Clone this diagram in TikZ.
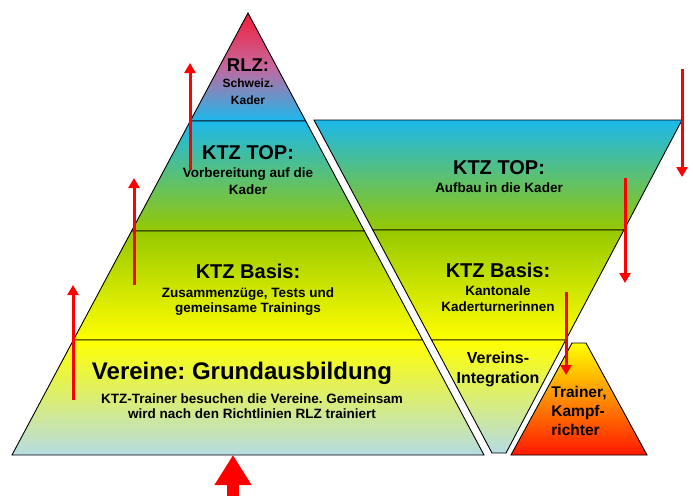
\documentclass[tikz,border=0pt]{standalone}
\usepackage{fontspec}
\setmainfont{Liberation Sans}
\usetikzlibrary{arrows.meta,positioning}
\frenchspacing

\definecolor{rlzred}{RGB}{245,28,58}
\definecolor{rlzmid}{RGB}{196,104,158}
\definecolor{kaderblue}{RGB}{28,184,236}
\definecolor{basisgreen}{RGB}{150,200,0}
\definecolor{vereinyellow}{RGB}{255,255,0}
\definecolor{vereinblue}{RGB}{182,220,228}
\definecolor{trainerred}{RGB}{255,24,0}

\begin{document}
\begin{tikzpicture}[x=1pt,y=-1pt,
    layer/.style={draw=black,line width=0.9pt},
    head/.style={inner sep=0pt,font=\fontsize{20}{22}\selectfont\bfseries},
    sub/.style={inner sep=0pt,align=center,font=\fontsize{13.5}{16.5}\selectfont\bfseries},
    rise/.style={draw=red,line width=3pt,-{Triangle[width=11pt,length=10pt]}},
    bigrise/.style={draw=red,line width=12pt,-{Triangle[width=35pt,length=30pt]}}
  ]
  \useasboundingbox (0,0) rectangle (693,495);
  % pyramid
  \path[layer,top color=rlzred,bottom color=kaderblue,middle color=rlzmid] (248,13) -- (305.7,121) -- (190.3,121) -- cycle;
  \path[layer,top color=kaderblue,bottom color=basisgreen] (190.3,121) -- (305.7,121) -- (364.4,231) -- (131.6,231) -- cycle;
  \path[layer,top color=basisgreen,bottom color=vereinyellow] (131.6,231) -- (364.4,231) -- (422.6,340) -- (73.4,340) -- cycle;
  \path[layer,top color=vereinyellow,bottom color=vereinblue] (73.4,340) -- (422.6,340) -- (484,455) -- (12,455) -- cycle;
  % funnel
  \path[layer,top color=kaderblue,bottom color=basisgreen] (314,120) -- (682,120) -- (623.9,230) -- (372.8,230) -- cycle;
  \path[layer,top color=basisgreen,bottom color=vereinyellow] (372.8,230) -- (623.9,230) -- (565.7,340) -- (431.6,340) -- cycle;
  \path[layer,top color=vereinyellow,bottom color=vereinblue] (431.6,340) -- (565.7,340) -- (506,453) -- (492,453) -- cycle;
  % trainer
  \path[layer,top color=vereinyellow,bottom color=trainerred] (572,343) -- (586,343) -- (647,455) -- (511,455) -- cycle;

  % texts
  \node[head,font=\fontsize{18.5}{20}\selectfont\bfseries] (rlz) at (248,65) {RLZ:};
  \node[sub,font=\fontsize{12}{17}\selectfont\bfseries,below=7pt of rlz] (rlzsub) {Schweiz.\\Kader};
  \node[head] (ptop) at (248,153) {KTZ TOP:};
  \node[sub,below=7.5pt of ptop] (ptopsub) {Vorbereitung auf die\\Kader};
  \node[head] (pbasis) at (248,271) {KTZ Basis:};
  \node[sub,font=\fontsize{13.5}{15.5}\selectfont\bfseries,below=8.5pt of pbasis] (pbasissub) {Zusammenzüge, Tests und\\gemeinsame Trainings};
  \node[head,font=\fontsize{24}{26}\selectfont\bfseries] (verein) at (242,373) {Vereine: Grundausbildung};
  \node[sub,font=\fontsize{13.5}{15}\selectfont\bfseries,below=9pt of verein,xshift=10pt] (vereinsub) {KTZ-Trainer besuchen die Vereine. Gemeinsam\\wird nach den Richtlinien RLZ trainiert};
  \node[head] (ftop) at (499,168) {KTZ TOP:};
  \node[sub,below=7.5pt of ftop] (ftopsub) {Aufbau in die Kader};
  \node[head] (fbasis) at (498,270) {KTZ Basis:};
  \node[sub,below=7.5pt of fbasis] (fbasissub) {Kantonale\\Kaderturnerinnen};
  \node[sub,font=\fontsize{16}{20}\selectfont\bfseries] (integration) at (498,369) {Vereins-\\Integration};
  \node[sub,align=left,font=\fontsize{15.5}{19}\selectfont\bfseries] (trainer) at (579,411) {Trainer,\\Kampf-\\richter};

  % arrows
  \coordinate (up1a) at (190,170);  \coordinate (up1b) at (190,63);
  \coordinate (up2a) at (134,285);  \coordinate (up2b) at (134,178);
  \coordinate (up3a) at (73,400);   \coordinate (up3b) at (73,285);
  \coordinate (dn1a) at (682,69);   \coordinate (dn1b) at (682,177);
  \coordinate (dn2a) at (625,178);  \coordinate (dn2b) at (625,283);
  \coordinate (dn3a) at (566,292);  \coordinate (dn3b) at (566,375);
  \coordinate (basea) at (233,500); \coordinate (baseb) at (233,455);
  \draw[rise] (up1a) -- (up1b);
  \draw[rise] (up2a) -- (up2b);
  \draw[rise] (up3a) -- (up3b);
  \draw[rise] (dn1a) -- (dn1b);
  \draw[rise] (dn2a) -- (dn2b);
  \draw[rise] (dn3a) -- (dn3b);
  \draw[bigrise] (basea) -- (baseb);
\end{tikzpicture}
\end{document}
